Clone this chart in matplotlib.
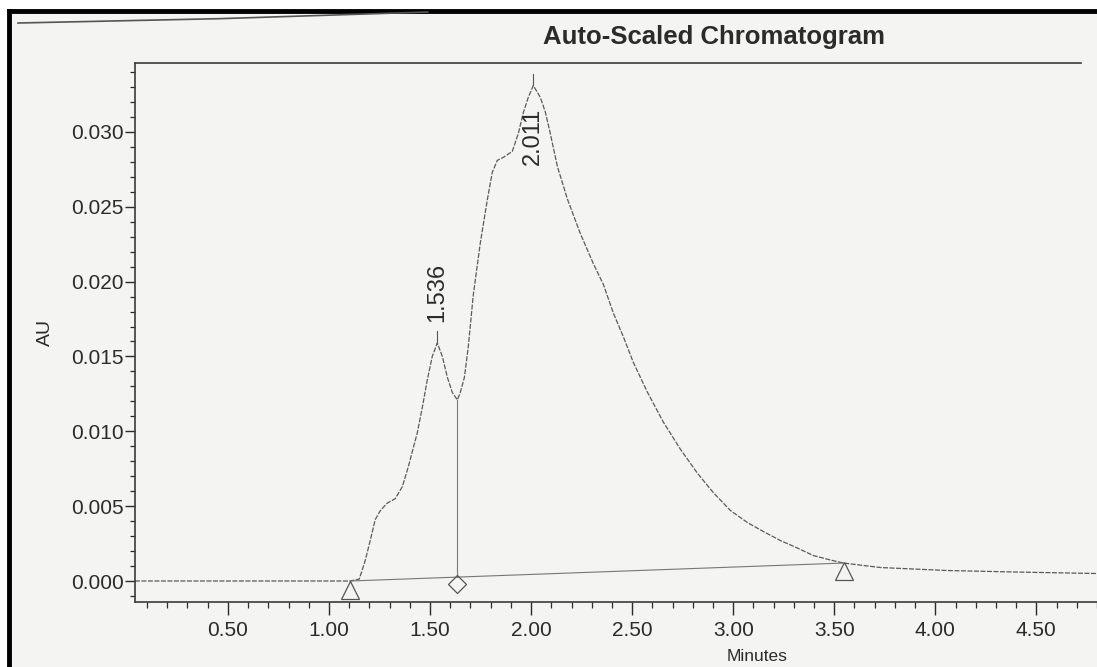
import numpy as np
import matplotlib.pyplot as plt
from matplotlib.lines import Line2D
from matplotlib.patches import Rectangle
from matplotlib.ticker import MultipleLocator, FormatStrFormatter

plt.rcParams['font.family'] = ['Liberation Sans', 'DejaVu Sans']

# detector trace, minutes vs AU
time = [0.04, 0.40, 0.76, 1.105, 1.150, 1.180, 1.204, 1.229, 1.254, 1.288, 1.328,
        1.363, 1.392, 1.437, 1.462, 1.486, 1.511, 1.536, 1.561, 1.586, 1.610, 1.635,
        1.650, 1.670, 1.689, 1.714, 1.749, 1.784, 1.808, 1.833, 1.863, 1.907, 1.937,
        1.962, 1.986, 2.011, 2.046, 2.071, 2.095, 2.130, 2.180, 2.244, 2.308, 2.358,
        2.407, 2.457, 2.506, 2.576, 2.655, 2.739, 2.823, 2.902, 2.987, 3.071, 3.150,
        3.234, 3.318, 3.397, 3.482, 3.546, 3.729, 4.061, 4.400, 4.800]
au = [0.0, 0.0, 0.0, 0.0, 0.00013, 0.0014, 0.0027, 0.0041, 0.0047, 0.0052, 0.0055,
      0.0063, 0.0076, 0.0099, 0.0116, 0.0134, 0.0150, 0.0159, 0.0150, 0.0136, 0.0126, 0.0121,
      0.0126, 0.0136, 0.0156, 0.0191, 0.0226, 0.0255, 0.0273, 0.0281, 0.0283, 0.0287, 0.0299,
      0.0313, 0.0323, 0.0331, 0.0323, 0.0313, 0.0299, 0.0277, 0.0255, 0.0232, 0.0212, 0.0198,
      0.0179, 0.0163, 0.0146, 0.0126, 0.0106, 0.0088, 0.0072, 0.0059, 0.0047, 0.0039, 0.0033,
      0.0027, 0.0022, 0.0017, 0.0014, 0.0012, 0.0009, 0.0007, 0.0006, 0.0005]

peak_times = [1.536, 2.011]
peak_labels = ['1.536', '2.011']
peak_heights = [0.0159, 0.0331]
label_y = [0.0173, 0.0278]

# integration: start, valley drop, end
int_start = (1.105, 0.0)
int_end = (3.546, 0.0012)
drop_time = 1.635
drop_height = 0.0121

INK = '#2b2b2b'
TRACE = '#5a5a5a'

fig = plt.figure(figsize=(10.97, 6.67), dpi=100, facecolor='#f4f4f2')
ax = fig.add_axes([0.123, 0.0975, 0.877, 0.808])
ax.set_facecolor('#f4f4f2')

ax.plot(time, au, color=TRACE, lw=0.9, ls=(0, (4, 1.2)))

# baseline under the peaks
ax.plot([int_start[0], int_end[0]], [int_start[1], int_end[1]], color='#777777', lw=0.8)
slope = (int_end[1] - int_start[1]) / (int_end[0] - int_start[0])
drop_base = int_start[1] + slope * (drop_time - int_start[0])
ax.plot([drop_time, drop_time], [drop_base, drop_height], color='#777777', lw=0.8)

ax.plot([int_start[0], int_end[0]], [int_start[1] - 0.0006, int_end[1] - 0.0005],
        ls='none', marker='^', ms=13, mfc='none', mec='#555555', mew=0.9)
ax.plot([drop_time], [drop_base - 0.00045], ls='none', marker='D', ms=9,
        mfc='none', mec='#555555', mew=0.9)

for t, h, lab, ly in zip(peak_times, peak_heights, peak_labels, label_y):
    ax.plot([t, t], [h, h + 0.0008], color='#555555', lw=0.8)
    ax.text(t, ly, lab, rotation=90, ha='center', va='bottom', fontsize=17, color=INK)

ax.set_xlim(0.04, 4.80)
ax.set_ylim(-0.0014, 0.0346)

ax.xaxis.set_major_locator(MultipleLocator(0.5))
ax.xaxis.set_minor_locator(MultipleLocator(0.1))
ax.xaxis.set_major_formatter(FormatStrFormatter('%.2f'))
ax.yaxis.set_major_locator(MultipleLocator(0.005))
ax.yaxis.set_minor_locator(MultipleLocator(0.001))
ax.yaxis.set_major_formatter(FormatStrFormatter('%.3f'))
ax.set_xticks([t for t in np.arange(0.5, 4.51, 0.5)])

ax.tick_params(axis='both', which='major', labelsize=15, colors=INK, width=1.0)
ax.tick_params(axis='x', which='major', length=9, pad=5)
ax.tick_params(axis='x', which='minor', length=4.5, width=0.9, color=INK)
ax.tick_params(axis='y', which='major', length=7, pad=1)
ax.tick_params(axis='y', which='minor', length=3.5, width=0.9, color=INK)

ax.spines['right'].set_visible(False)
ax.spines['top'].set_bounds(0.04, 4.72)
for s in ('left', 'bottom', 'top'):
    ax.spines[s].set_color('#3a3a3a')
    ax.spines[s].set_linewidth(1.2)

ax.set_xlabel('Minutes', fontsize=12.5, color=INK)
ax.xaxis.set_label_coords(0.647, -0.087)
ax.set_ylabel('AU', fontsize=14, color=INK, labelpad=12)
fig.text(0.651, 0.945, 'Auto-Scaled Chromatogram', ha='center', va='center',
         fontsize=18.5, fontweight='bold', color=INK)

# page frame
fig.add_artist(Rectangle((0, 0.9835), 1, 0.0165, transform=fig.transFigure,
                         facecolor='white', edgecolor='none'))
fig.add_artist(Rectangle((0, 0), 0.0082, 1, transform=fig.transFigure,
                         facecolor='white', edgecolor='none'))
fig.add_artist(Line2D([0.0082, 0.0082], [0, 0.9835], transform=fig.transFigure,
                      color='black', lw=3.5))
fig.add_artist(Line2D([0.0082, 1.0], [0.9835, 0.9835], transform=fig.transFigure,
                      color='black', lw=3.5))
fig.add_artist(Line2D([0.0164, 0.2, 0.39], [0.9655, 0.972, 0.982],
                      transform=fig.transFigure, color='#555555', lw=1.2))

fig.savefig('out.png', dpi=100, facecolor=fig.get_facecolor())
